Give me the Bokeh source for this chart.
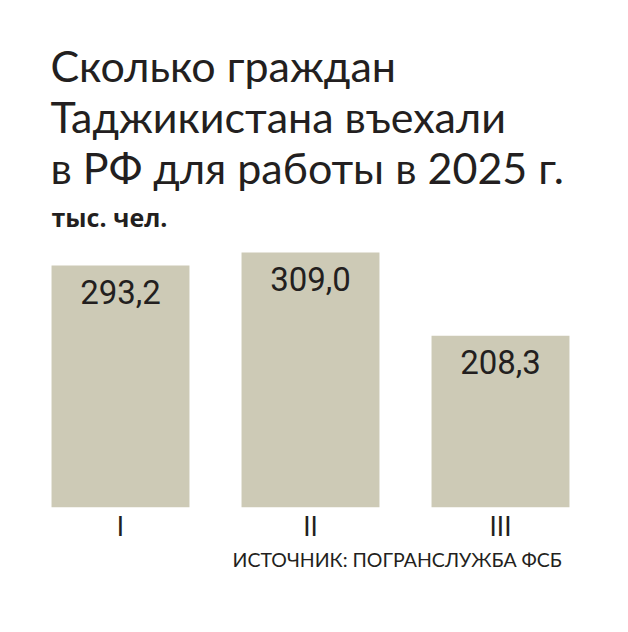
from bokeh.plotting import figure
from bokeh.models import ColumnDataSource, Title, Range1d
from bokeh.core.properties import value
from bokeh.embed import file_html
from bokeh.resources import INLINE

# data
quarters = ["I", "II", "III"]
arrivals = [293.2, 309.0, 208.3]   # тыс. чел.
value_labels = ["293,2", "309,0", "208,3"]

title_lines = ["Сколько граждан", "Таджикистана въехали", "в РФ для работы в 2025 г."]
units = "тыс. чел."
source_note = "ИСТОЧНИК: ПОГРАНСЛУЖБА ФСБ"

ink = "#231f20"
bar_color = "#cdcab6"

src = ColumnDataSource(data=dict(q=quarters, v=arrivals, lbl=value_labels))

p = figure(x_range=quarters, y_range=Range1d(0, 323.6), width=612, height=616,
           title=None, y_axis_location=None, output_backend="svg",
           toolbar_location=None, tools="",
           min_border_left=25, min_border_right=17,
           min_border_top=240, min_border_bottom=109,
           outline_line_color=None)

p.vbar(x="q", top="v", width=0.726, source=src,
       fill_color=bar_color, line_color=None)
p.text(x="q", y="v", text="lbl", source=src, text_align="center",
       text_baseline="top", y_offset=14,
       text_font=value("Roboto"), text_font_size="33px",
       text_color=ink)

p.xgrid.visible = False
p.ygrid.visible = False
p.xaxis.axis_line_color = None
p.xaxis.major_tick_line_color = None
p.xaxis.major_tick_out = 0
p.xaxis.major_label_standoff = 2
p.xaxis.major_label_text_font = "Lato"
p.xaxis.major_label_text_font_size = "26px"
p.xaxis.major_label_text_color = ink

# titles stack upward, so the lowest one goes first
p.add_layout(Title(text=units, text_font="Open Sans", text_font_style="bold",
                   text_font_size="25px", text_color=ink, offset=26, standoff=13), "above")
for line in reversed(title_lines):
    p.add_layout(Title(text=line, text_font="Lato", text_font_style="normal",
                       text_font_size="43px", text_color=ink, offset=25, standoff=-2), "above")

p.add_layout(Title(text=source_note, text_font="Lato", text_font_style="normal",
                   text_font_size="19.5px", text_color=ink, align="left",
                   offset=207, standoff=2), "below")

open("out.html", "w").write(file_html(p, INLINE))
